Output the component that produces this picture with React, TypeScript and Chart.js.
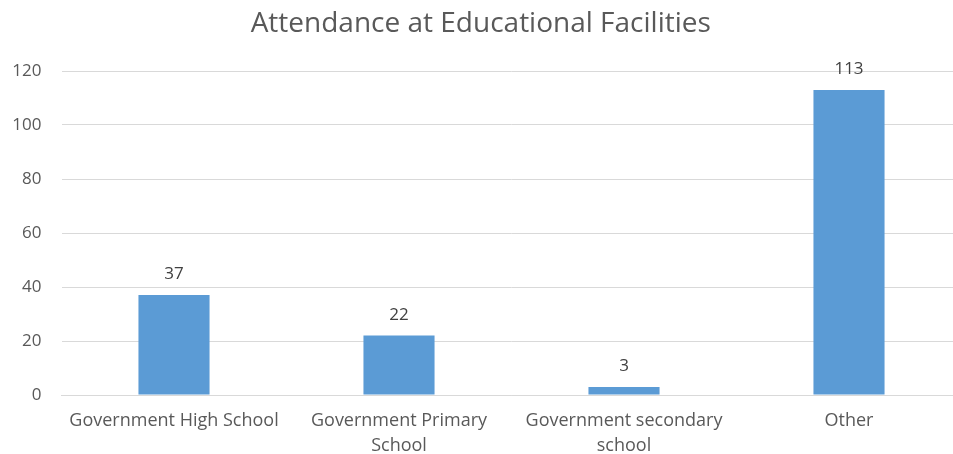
import React, { useEffect, useRef } from "react";
import { Chart, registerables } from "chart.js";

Chart.register(...registerables);

const categories: string[][] = [
  ["Government High School"],
  ["Government Primary", "School"],
  ["Government secondary", "school"],
  ["Other"],
];
const attendance: number[] = [37, 22, 3, 113];
const yTicks: number[] = [0, 20, 40, 60, 80, 100, 120];

const FONT = "'Open Sans', 'Noto Sans', sans-serif";

const dataLabelPlugin = {
  id: "dataLabels",
  afterDatasetsDraw(chart: any) {
    const ctx = chart.ctx;
    const meta = chart.getDatasetMeta(0);
    ctx.save();
    ctx.font = `17px ${FONT}`;
    ctx.fillStyle = "#404040";
    ctx.textAlign = "center";
    ctx.textBaseline = "bottom";
    meta.data.forEach((el: any, i: number) => {
      ctx.fillText(String(attendance[i]), el.x, el.y - 12);
    });
    ctx.restore();
  },
};

export default function App() {
  const ref = useRef<HTMLCanvasElement | null>(null);
  useEffect(() => {
    document.body.style.margin = "0";
    if (!ref.current) return;
    const chart = new Chart(ref.current, {
      type: "bar",
      data: {
        labels: categories,
        datasets: [
          {
            data: attendance,
            backgroundColor: "#5B9BD5",
            borderWidth: 0,
            categoryPercentage: 1,
            barPercentage: 0.316,
          },
        ],
      },
      options: {
        animation: false,
        responsive: false,
        maintainAspectRatio: false,
        layout: { padding: { left: 0, right: 16.5, top: 0, bottom: 0 } },
        plugins: {
          legend: { display: false },
          tooltip: { enabled: false },
          title: {
            display: true,
            text: "Attendance at Educational Facilities",
            color: "#595959",
            font: { family: FONT, size: 28, weight: "normal" },
            padding: { top: 7, bottom: 30.4 },
          },
        },
        scales: {
          x: {
            grid: { display: false, drawTicks: false },
            border: { display: true, color: "#d9d9d9" },
            ticks: {
              color: "#595959",
              font: { family: FONT, size: 18, lineHeight: 1.39 },
              padding: 13,
              maxRotation: 0,
              autoSkip: false,
            },
            afterFit: (s: any) => {
              s.height = 85;
            },
          },
          y: {
            min: 0,
            max: 120,
            afterBuildTicks: (s: any) => {
              s.ticks = yTicks.map((v) => ({ value: v }));
            },
            grid: { color: "#d9d9d9", drawTicks: false },
            border: { display: false },
            ticks: {
              color: "#595959",
              font: { family: FONT, size: 17 },
              padding: 20,
            },
            afterFit: (s: any) => {
              s.width = 61.5;
            },
          },
        },
      },
      plugins: [dataLabelPlugin],
    });
    return () => chart.destroy();
  }, []);
  return (
    <div
      style={{
        width: 953,
        height: 454,
        overflow: "hidden",
        position: "relative",
        background: "#fff",
      }}
    >
      <canvas ref={ref} width={978} height={480} style={{ display: "block", width: 978, height: 480 }} />
    </div>
  );
}
